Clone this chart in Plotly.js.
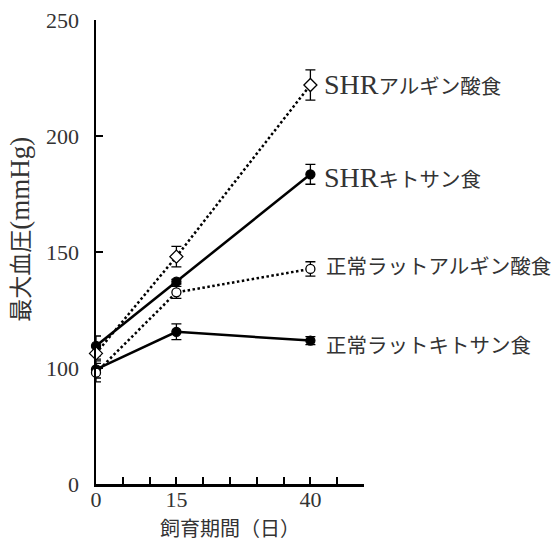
<!DOCTYPE html>
<html>
<head>
<meta charset="utf-8">
<script src="https://cdn.plot.ly/plotly-3.0.1.min.js"></script>
<style>html,body{margin:0;padding:0;background:#fff;}#chart{width:557px;height:547px;}</style>
</head>
<body>
<div id="chart"></div>
<script>
// ---- data ----
const days = [0, 15, 40];
const seriesNames = ['SHRアルギン酸食', 'SHRキトサン食', '正常ラットアルギン酸食', '正常ラットキトサン食'];
const shrAlginate = [106.3, 148.0, 222.0];
const shrAlginateErr = [2.5, 4.4, 6.5];
const shrChitosan = [109.5, 137.2, 183.5];
const shrChitosanErr = [4.3, 1.0, 4.3];
const normalAlginate = [98.0, 132.6, 142.7];
const normalAlginateErr = [4.0, 2.6, 3.1];
const normalChitosan = [99.4, 115.6, 111.8];
const normalChitosanErr = [3.7, 3.4, 1.7];
const yTickValues = [0, 100, 150, 200, 250];
const yTickLabels = ['0', '100', '150', '200', '250'];
const xTickValues = [0, 5, 10, 15, 20, 25, 30, 35, 40, 45, 50];
const xTickLabels = ['0', '', '', '15', '', '', '', '', '40', '', ''];
const xTitle = '飼育期間（日）';
const yTitleJa = '最大血圧';
const yTitleUnit = '(mmHg)';

// broken y axis: 0–50 omitted, so the "0" tick sits one interval below 100
const toAxis = v => Math.max(v - 50, 0);

const serif = 'Liberation Serif, Noto Sans CJK JP, serif';
const txtColor = '#333';

function mk(y, err, symbol, fill, dash, size) {
  return {
    x: days, y: y.map(toAxis), type: 'scatter', mode: 'lines+markers',
    cliponaxis: false,
    line: {color: '#000', width: 2.5, dash: dash},
    marker: {symbol: symbol, size: size, color: fill, line: {color: '#000', width: 1.3}},
    error_y: {type: 'data', array: err, visible: true, color: '#000', thickness: 1.3, width: 5},
    showlegend: false, hoverinfo: 'skip'
  };
}

const traces = [
  mk(normalChitosan, normalChitosanErr, 'circle', '#000', 'solid', 9),
  mk(normalAlginate, normalAlginateErr, 'circle', '#fff', '2.5px,2.5px', 9),
  mk(shrChitosan, shrChitosanErr, 'circle', '#000', 'solid', 9),
  mk(shrAlginate, shrAlginateErr, 'diamond', '#fff', '2.5px,2.5px', 10)
];

const labelY = [shrAlginate[2], shrChitosan[2], normalAlginate[2], normalChitosan[2]];
const labelShift = [[12, 0], [12, -3], [14, 2], [14, -5]];
const annotations = seriesNames.map((name, i) => ({
  x: days[2], y: toAxis(labelY[i]), xref: 'x', yref: 'y',
  text: name.replace('SHR', '<span style="font-size:28px">SHR</span>'),
  showarrow: false, xanchor: 'left', yanchor: 'middle',
  xshift: labelShift[i][0], yshift: labelShift[i][1],
  font: {family: serif, size: 20.5, color: txtColor}
}));
annotations.push({
  x: 0.5, y: -0.098, xref: 'paper', yref: 'paper', text: xTitle, showarrow: false,
  xanchor: 'center', yanchor: 'middle', font: {family: serif, size: 20, color: txtColor}
});
annotations.push({
  x: -0.284, y: 0.55, xref: 'paper', yref: 'paper',
  text: yTitleJa + '<span style="font-size:27px">' + yTitleUnit + '</span>', showarrow: false,
  textangle: -90, xanchor: 'center', yanchor: 'middle', font: {family: serif, size: 23, color: txtColor}
});

const layout = {
  width: 557, height: 547,
  margin: {l: 96, r: 193, t: 20, b: 63},
  paper_bgcolor: '#fff', plot_bgcolor: '#fff',
  showlegend: false,
  xaxis: {
    range: [0, 50], showgrid: false, zeroline: false,
    showline: true, linecolor: '#000', linewidth: 2.5,
    ticks: 'inside', ticklen: 7, tickwidth: 2, tickcolor: '#000',
    tickmode: 'array', tickvals: xTickValues, ticktext: xTickLabels,
    tickfont: {family: serif, size: 22, color: txtColor},
    ticklabelstandoff: -6
  },
  yaxis: {
    range: [0, 200], showgrid: false, zeroline: false,
    showline: true, linecolor: '#000', linewidth: 2.5,
    ticks: 'inside', ticklen: 7, tickwidth: 2, tickcolor: '#000',
    tickmode: 'array', tickvals: yTickValues.map(toAxis), ticktext: yTickLabels,
    tickfont: {family: serif, size: 22, color: txtColor},
    ticklabelstandoff: 10
  },
  annotations: annotations
};

Plotly.newPlot('chart', traces, layout, {staticPlot: true, displayModeBar: false});
</script>
</body>
</html>
